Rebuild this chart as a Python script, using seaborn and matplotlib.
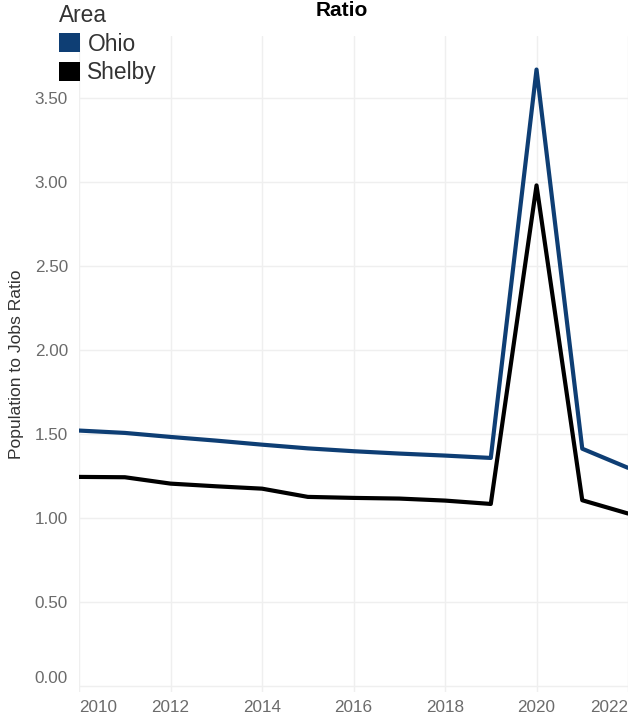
import pandas as pd
import matplotlib.pyplot as plt
import seaborn as sns
from matplotlib.patches import Patch

years = list(range(2010, 2023))
ohio = [1.520, 1.506, 1.482, 1.460, 1.436, 1.414, 1.397, 1.383, 1.371, 1.357, 3.67, 1.412, 1.298]
shelby = [1.244, 1.242, 1.204, 1.188, 1.174, 1.125, 1.119, 1.115, 1.103, 1.083, 2.98, 1.105, 1.026]
areas = ["Ohio", "Shelby"]
colors = {"Ohio": "#0e3e74", "Shelby": "#000000"}

data = pd.DataFrame({
    "Year": years * 2,
    "Ratio": ohio + shelby,
    "Area": ["Ohio"] * len(years) + ["Shelby"] * len(years),
})

sns.set_style("white")
plt.rcParams['font.family'] = ['Liberation Sans', 'DejaVu Sans']

fig = plt.figure(figsize=(6.28, 7.19), dpi=100)
ax = fig.add_axes([0.126, 0.038, 0.874, 0.912])

sns.lineplot(data=data, x="Year", y="Ratio", hue="Area", palette=colors,
             linewidth=3, ax=ax, legend=False)

ax.set_xlim(2010, 2022)
ax.set_ylim(-0.035, 3.87)
ax.set_xticks([2010, 2012, 2014, 2016, 2018, 2020, 2022])
ax.set_yticks([0, 0.5, 1.0, 1.5, 2.0, 2.5, 3.0, 3.5])
ax.set_yticklabels([f"{v:.2f}" for v in ax.get_yticks()])
ax.grid(True, color="#efefef", linewidth=1)
ax.set_axisbelow(True)
for s in ax.spines.values():
    s.set_visible(False)
ax.tick_params(axis="both", length=5, color="#efefef", labelsize=12.3,
               labelcolor="#6b6b6b")
ax.tick_params(axis="x", pad=1)
ax.tick_params(axis="y", pad=3)
xl = ax.get_xticklabels()
xl[0].set_horizontalalignment("left")
xl[-1].set_horizontalalignment("right")
ax.get_yticklabels()[0].set_verticalalignment("bottom")

ax.set_xlabel("")
ax.set_ylabel("Population to Jobs Ratio", fontsize=12.6, color="#333333", labelpad=8)

fig.text(342 / 628, 1 - 10 / 719, "Ratio", ha="center", va="center",
         fontsize=15, fontweight="bold", color="#000000")

handles = [Patch(facecolor=colors[a], edgecolor="none", label=a) for a in areas]
leg = fig.legend(handles=handles, title="Area", loc="upper left",
                 bbox_to_anchor=(59 / 628, 1 - 4 / 719), frameon=False,
                 fontsize=16.4, title_fontsize=16.4, handlelength=0.9,
                 handleheight=0.9, handletextpad=0.35, labelspacing=0.25,
                 borderpad=0, borderaxespad=0)
leg._legend_box.align = "left"
for t in leg.get_texts():
    t.set_color("#333333")
leg.get_title().set_color("#333333")

plt.savefig("out.png", dpi=100)
